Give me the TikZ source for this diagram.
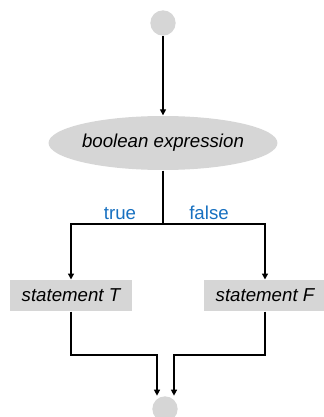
\documentclass[tikz,border=0pt]{standalone}
\usepackage{fontspec}
\setmainfont{Liberation Sans}
\usepackage{xcolor}
\usetikzlibrary{shapes.geometric, arrows.meta, positioning}
\definecolor{boxgray}{RGB}{214,214,214}
\definecolor{lblblue}{RGB}{23,112,192}

\begin{document}
\begin{tikzpicture}[x=0.75pt, y=-0.75pt, line width=1pt,
  >={Triangle[length=4.5pt,width=4.5pt]},
  dot/.style={circle, fill=boxgray, minimum size=19pt, inner sep=0pt},
  cond/.style={ellipse, fill=boxgray, minimum width=147pt, minimum height=40.5pt, inner sep=0pt, font=\fontsize{14}{16}\selectfont\itshape},
  stmt/.style={rectangle, fill=boxgray, minimum width=91.5pt, minimum height=23pt, inner sep=0pt, font=\fontsize{14}{16}\selectfont\itshape},
  lbl/.style={text=lblblue, inner sep=0pt, font=\fontsize{14}{16}\selectfont}]
\useasboundingbox (0,0) rectangle (324,417);

% nodes
\node[dot] (start) at (163,23) {};
\node[cond] (expr) at (163,143) {boolean expression};
\node[stmt] (stmtT) at (71,295.5) {statement T};
\node[stmt] (stmtF) at (265,295.5) {statement F};
\node[dot] (stop) at (165,409) {};
\coordinate (split) at (163,224);
\coordinate (joinT) at (157,355);
\coordinate (joinF) at (174,355);

% branch labels
\node[lbl, anchor=base] (lblT) at (120,219) {true};
\node[lbl, anchor=base] (lblF) at (209,219) {false};

% connectors
\draw[->] (start) -- (expr);
\draw (expr) -- (split);
\draw[->] (split) -| (stmtT);
\draw[->] (split) -| (stmtF);
\draw[->] (stmtT) |- (joinT) -- (joinT |- stop.north);
\draw[->] (stmtF) |- (joinF) -- (joinF |- stop.north);
\end{tikzpicture}
\end{document}
